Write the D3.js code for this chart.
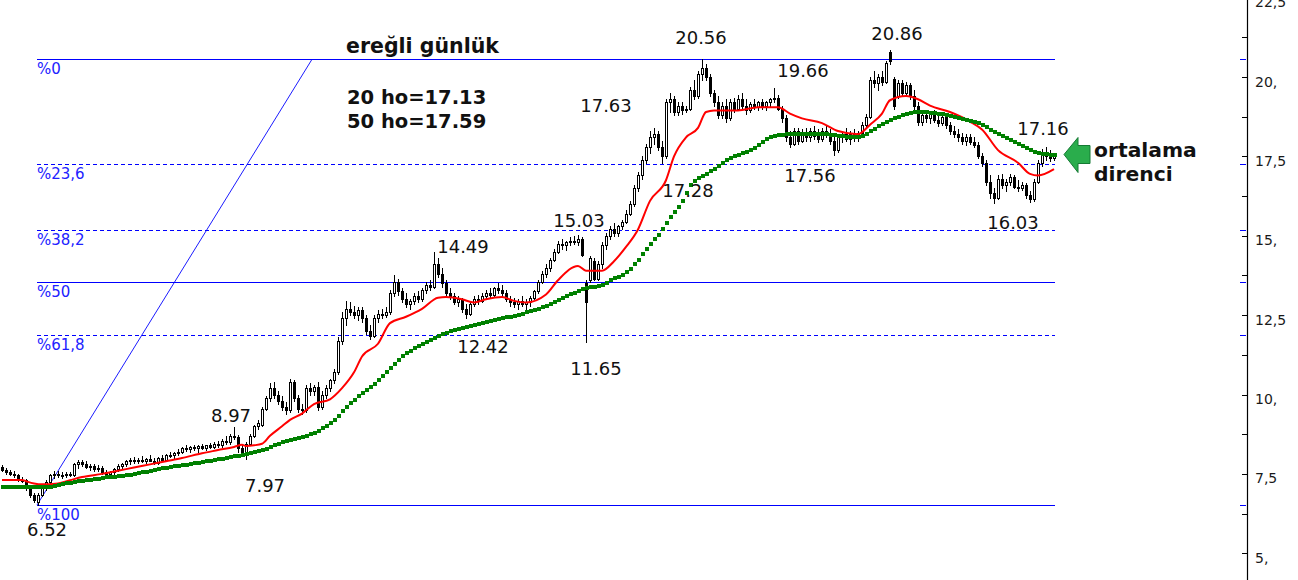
<!DOCTYPE html>
<html>
<head>
<meta charset="utf-8">
<script src="https://cdn.jsdelivr.net/npm/d3@7"></script>
<style>
  html, body { margin: 0; padding: 0; background: #ffffff; }
  svg { display: block; }
  text { font-family: "DejaVu Sans", Verdana, sans-serif; }
</style>
</head>
<body>
<svg id="chart" width="1298" height="580"></svg>
<script>
// ---------------- DATA ----------------
// daily candles [open, high, low, close]
const candles = [
[7.72,7.78,7.6,7.62],[7.62,7.68,7.5,7.55],[7.55,7.62,7.45,7.5],[7.5,7.58,7.4,7.45],[7.45,7.5,7.28,7.32],
[7.32,7.4,7.25,7.3],[7.3,7.35,7.0,7.05],[7.05,7.1,6.78,6.85],[6.85,6.9,6.6,6.68],[6.62,6.9,6.52,6.85],
[6.85,7.15,6.8,7.1],[7.05,7.3,7.0,7.25],[7.25,7.5,7.2,7.45],[7.45,7.6,7.38,7.5],[7.5,7.58,7.4,7.45],
[7.45,7.55,7.38,7.48],[7.48,7.55,7.4,7.5],[7.5,7.56,7.42,7.46],[7.46,7.85,7.44,7.8],[7.8,7.95,7.7,7.88],
[7.88,7.95,7.75,7.8],[7.8,7.9,7.7,7.72],[7.72,7.82,7.62,7.75],[7.75,7.8,7.6,7.65],[7.65,7.78,7.6,7.7],
[7.7,7.75,7.5,7.55],[7.55,7.62,7.45,7.5],[7.5,7.6,7.45,7.55],[7.55,7.7,7.5,7.65],[7.65,7.8,7.6,7.75],
[7.75,7.85,7.7,7.8],[7.8,7.95,7.75,7.9],[7.9,8.0,7.82,7.95],[7.95,8.02,7.85,7.9],[7.9,8.0,7.85,7.95],
[7.95,8.05,7.88,7.92],[7.92,8.0,7.85,7.97],[7.97,8.08,7.9,7.9],[7.9,8.0,7.82,7.85],[7.85,8.02,7.8,8.0],
[8.0,8.1,7.92,7.95],[7.95,8.12,7.9,8.1],[8.1,8.2,8.02,8.08],[8.08,8.2,8.0,8.15],[8.15,8.28,8.08,8.2],
[8.2,8.35,8.15,8.3],[8.3,8.4,8.22,8.28],[8.28,8.38,8.2,8.35],[8.35,8.42,8.25,8.3],[8.3,8.4,8.2,8.38],
[8.38,8.45,8.28,8.32],[8.32,8.42,8.25,8.4],[8.4,8.48,8.3,8.35],[8.35,8.5,8.3,8.45],[8.45,8.55,8.35,8.4],
[8.4,8.6,8.35,8.55],[8.55,8.7,8.45,8.5],[8.5,8.75,8.45,8.7],[8.7,8.97,8.6,8.65],[8.65,8.72,8.2,8.3],
[8.3,8.4,8.05,8.15],[8.1,8.5,7.97,8.45],[8.45,8.75,8.4,8.7],[8.7,9.05,8.65,9.0],[9.0,9.2,8.9,9.1],
[9.05,9.6,9.0,9.55],[9.55,9.95,9.5,9.9],[9.9,10.35,9.8,10.2],[10.2,10.4,9.9,10.0],[10.0,10.1,9.7,9.8],
[9.8,9.95,9.5,9.6],[9.6,9.75,9.4,9.5],[9.5,10.5,9.45,10.4],[10.4,10.45,9.8,9.9],[9.9,10.0,9.45,9.55],
[9.55,9.7,9.4,9.5],[9.5,10.3,9.45,10.2],[10.2,10.35,10.0,10.1],[10.1,10.3,10.0,10.25],[10.25,10.4,9.5,9.6],
[9.6,10.1,9.55,10.0],[10.0,10.3,9.9,10.2],[10.2,10.5,10.1,10.45],[10.45,10.8,10.35,10.7],[10.7,11.8,10.65,11.7],
[11.7,12.6,11.6,12.4],[12.4,12.95,12.2,12.7],[12.7,12.9,12.5,12.6],[12.6,12.8,12.4,12.5],[12.5,12.75,12.35,12.65],
[12.65,12.75,12.3,12.4],[12.4,12.5,11.9,12.0],[12.0,12.2,11.75,11.85],[11.85,12.5,11.8,12.4],[12.4,12.65,12.3,12.55],
[12.55,12.7,12.4,12.5],[12.5,12.75,12.45,12.6],[12.6,13.3,12.55,13.2],[13.2,13.75,13.1,13.55],[13.55,13.65,13.15,13.25],
[13.25,13.35,12.9,13.0],[13.0,13.2,12.75,12.85],[12.85,13.0,12.7,12.95],[12.95,13.2,12.85,13.1],[13.1,13.25,12.9,13.0],
[13.0,13.35,12.95,13.3],[13.3,13.55,13.2,13.45],[13.45,13.6,13.3,13.4],[13.4,14.49,13.35,14.1],[14.1,14.3,13.7,13.8],
[13.8,14.0,13.4,13.5],[13.5,13.6,13.1,13.2],[13.2,13.35,13.0,13.1],[13.1,13.2,12.85,12.9],[12.9,13.1,12.8,13.0],
[13.0,13.05,12.6,12.7],[12.7,12.85,12.42,12.55],[12.55,12.9,12.5,12.85],[12.85,13.1,12.8,13.0],[13.0,13.15,12.85,12.95],
[12.95,13.2,12.9,13.1],[13.1,13.3,13.0,13.2],[13.2,13.35,13.05,13.15],[13.15,13.4,13.1,13.35],[13.35,13.5,13.2,13.3],
[13.3,13.45,13.1,13.2],[13.2,13.3,12.95,13.0],[13.0,13.1,12.8,12.9],[12.9,13.05,12.75,12.85],[12.85,13.0,12.7,12.95],
[12.95,13.1,12.8,12.85],[12.85,13.0,12.7,12.9],[12.9,13.1,12.8,13.05],[13.05,13.3,13.0,13.25],[13.25,13.6,13.2,13.55],
[13.55,13.9,13.5,13.8],[13.8,14.1,13.7,14.0],[14.0,14.3,13.9,14.25],[14.25,14.6,14.2,14.5],[14.5,14.85,14.45,14.75],
[14.75,14.9,14.6,14.7],[14.7,14.85,14.55,14.8],[14.8,14.95,14.7,14.85],[14.85,15.0,14.75,14.8],[14.8,15.03,14.7,14.9],
[14.9,14.95,14.35,14.4],[13.5,13.6,11.65,12.9],[13.6,14.35,13.55,14.3],[14.2,14.3,13.6,13.65],[13.65,14.2,13.6,14.1],
[14.1,14.8,14.0,14.7],[14.7,15.1,14.6,15.0],[15.0,15.3,14.9,15.2],[15.2,15.4,15.0,15.1],[15.1,15.35,15.0,15.3],
[15.3,15.5,15.2,15.45],[15.45,15.8,15.4,15.7],[15.7,16.1,15.65,16.0],[16.0,16.6,15.95,16.5],[16.5,17.0,16.4,16.9],
[16.9,17.5,16.8,17.4],[17.4,17.9,17.3,17.8],[17.8,18.3,17.6,18.1],[18.1,18.4,17.9,18.2],[18.2,18.3,17.7,17.8],
[17.8,18.0,17.28,17.5],[17.5,19.3,17.45,19.2],[19.2,19.5,18.9,19.3],[19.3,19.4,18.8,18.9],[18.9,19.2,18.8,19.1],
[19.1,19.2,18.85,18.95],[18.95,19.1,18.9,19.0],[19.0,19.7,18.95,19.6],[19.6,19.9,19.3,19.4],[19.4,20.2,19.35,20.1],
[20.1,20.56,19.9,20.3],[20.3,20.4,19.9,20.0],[20.0,20.1,19.4,19.5],[19.5,19.6,19.1,19.2],[19.2,19.4,18.7,18.8],
[18.8,19.2,18.7,19.1],[19.1,19.3,18.6,18.7],[18.7,19.3,18.65,19.2],[19.2,19.35,18.9,19.0],[19.0,19.45,18.95,19.3],
[19.3,19.5,19.0,19.1],[19.1,19.3,18.85,18.95],[18.95,19.2,18.9,19.15],[19.15,19.3,19.0,19.05],[19.05,19.25,18.95,19.2],
[19.2,19.3,19.0,19.1],[19.1,19.25,18.95,19.2],[19.2,19.35,19.05,19.3],[19.3,19.66,19.2,19.35],[19.35,19.45,18.95,19.0],
[19.0,19.1,18.6,18.7],[18.7,18.8,18.0,18.1],[18.1,18.3,17.8,17.9],[17.9,18.4,17.85,18.3],[18.3,18.4,17.9,18.0],
[18.0,18.35,17.95,18.25],[18.25,18.4,18.0,18.1],[18.1,18.4,18.0,18.3],[18.3,18.45,18.05,18.15],[18.15,18.35,17.95,18.05],
[18.05,18.4,18.0,18.3],[18.3,18.45,18.1,18.2],[18.2,18.35,17.9,18.0],[18.0,18.1,17.56,17.7],[17.7,18.2,17.65,18.1],
[18.1,18.3,17.95,18.2],[18.2,18.4,18.0,18.05],[18.05,18.3,17.9,18.2],[18.2,18.35,18.0,18.1],[18.1,18.3,18.0,18.25],
[18.25,18.6,18.2,18.5],[18.5,18.85,18.4,18.75],[18.75,20.0,18.7,19.9],[19.9,20.2,19.7,19.8],[19.8,20.1,19.6,20.0],
[20.0,20.2,19.75,19.85],[19.85,20.5,19.8,20.45],[20.8,20.86,20.4,20.5],[19.95,20.0,19.0,19.1],[19.4,19.9,19.35,19.8],
[19.8,19.9,19.4,19.5],[19.5,19.85,19.4,19.75],[19.75,19.8,19.3,19.4],[19.4,19.6,19.0,19.1],[19.1,19.2,18.5,18.6],
[18.6,18.9,18.5,18.8],[18.8,18.95,18.6,18.7],[18.7,18.9,18.55,18.85],[18.85,18.95,18.6,18.65],[18.65,18.8,18.45,18.55],
[18.55,18.85,18.5,18.75],[18.75,18.8,18.4,18.5],[18.5,18.6,18.2,18.3],[18.3,18.45,18.1,18.2],[18.2,18.35,18.0,18.1],
[18.1,18.25,17.9,18.0],[18.0,18.2,17.85,18.1],[18.1,18.2,17.9,17.95],[17.95,18.1,17.8,17.85],[17.85,17.95,17.45,17.5],
[17.5,17.6,17.2,17.3],[17.3,17.4,16.6,16.7],[16.7,16.9,16.2,16.35],[16.35,16.5,16.03,16.2],[16.2,16.9,16.15,16.8],
[16.8,16.95,16.5,16.6],[16.6,16.8,16.4,16.7],[16.7,16.95,16.6,16.85],[16.85,16.9,16.5,16.55],[16.55,16.75,16.4,16.5],
[16.5,16.7,16.45,16.6],[16.6,16.65,16.2,16.3],[16.3,16.4,16.05,16.15],[16.15,16.8,16.1,16.7],[16.7,17.4,16.65,17.3],
[17.3,17.75,17.2,17.6],[17.6,17.8,17.4,17.5],[17.5,17.7,17.35,17.45],[17.45,17.6,17.4,17.55]
];

// 20-day moving average: [candle index, value]
const ma20 = [
[0,7.31],[5,7.31],[6,7.27],[8,7.2],[10,7.17],[14,7.2],[17,7.3],[20,7.4],[25,7.5],[29,7.6],[33,7.7],[37,7.8],
[41,7.9],[45,8.0],[50,8.15],[54,8.25],[58,8.35],[60,8.42],[61,8.38],[63,8.4],[65,8.45],[67,8.7],[70,9.0],
[72,9.2],[75,9.4],[78,9.7],[82,9.85],[85,10.2],[88,10.7],[90,11.2],[94,11.6],[97,12.25],[101,12.45],[105,12.7],
[109,13.05],[111,13.07],[115,13.0],[118,12.9],[121,13.0],[125,13.07],[128,12.95],[131,12.9],[136,13.15],
[139,13.6],[144,14.05],[146,13.9],[150,13.9],[153,14.2],[156,14.65],[159,15.2],[162,16.1],[166,16.75],
[168,17.5],[171,18.1],[174,18.4],[176,18.9],[178,18.95],[184,18.95],[189,19.05],[194,19.05],[197,18.85],
[200,18.7],[205,18.55],[209,18.3],[214,18.2],[217,18.5],[220,18.85],[222,19.27],[226,19.4],[229,19.3],
[232,19.1],[237,18.9],[242,18.6],[245,18.35],[249,17.7],[254,17.3],[257,16.95],[259,16.9],[263,17.1]
];

// 50-day moving average: [candle index, value]
const ma50 = [
[0,7.1],[8,7.1],[11,7.08],[16,7.2],[25,7.37],[33,7.5],[41,7.7],[50,7.87],[58,8.05],[65,8.25],[70,8.5],
[78,8.8],[83,9.2],[86,9.6],[90,10.05],[94,10.45],[97,10.85],[101,11.3],[106,11.65],[110,11.9],[115,12.1],
[120,12.25],[125,12.4],[130,12.55],[136,12.8],[141,13.1],[146,13.35],[150,13.45],[152,13.6],[156,13.85],
[159,14.25],[162,14.75],[165,15.2],[167,15.6],[170,16.1],[172,16.6],[176,16.95],[179,17.2],[182,17.45],
[187,17.7],[192,18.1],[197,18.2],[205,18.2],[214,18.1],[217,18.3],[222,18.65],[225,18.8],[229,18.9],
[234,18.85],[239,18.7],[244,18.55],[249,18.2],[254,17.9],[259,17.6],[263,17.55]
];

// Fibonacci retracement drawn from the 6.52 low to the 20.56 high
const fibLow = 6.52;
const fibHigh = 20.56;
const fibStartIdx = 8.75;   // candle index of the low
const fibTopIdx = 77.5;     // where the trend line meets the high level
const fibEndIdx = 263.25;
const fibLevels = [0, 23.6, 38.2, 50, 61.8, 100];
const fibLabels = ["%0", "%23,6", "%38,2", "%50", "%61,8", "%100"];

// right axis
const tickValues = [5, 7.5, 10, 12.5, 15, 17.5, 20, 22.5];
const tickLabels = ["5,", "7,5", "10,", "12,5", "15,", "17,5", "20,", "22,5"];

// price annotations
const priceNotes = ["20.56", "20.86", "19.66", "17.63", "17.28", "17.56", "17.16", "16.03",
                    "15.03", "14.49", "12.42", "11.65", "8.97", "7.97", "6.52"];
const titleText = "ereğli günlük";
const maNotes = ["20 ho=17.13", "50 ho=17.59"];
const calloutText = ["ortalama", "direnci"];

// ---------------- LAYOUT ----------------
const svg = d3.select("#chart");
const W = 1298, H = 580;
const x = d3.scaleLinear().domain([0, 263]).range([2, 1054]);
const y = d3.scaleLinear().domain([20.56, 6.52]).range([59.3, 505]);
const crisp = v => Math.round(v) + 0.5;

// fibonacci lines
const fibG = svg.append("g");
fibLevels.forEach((lv, k) => {
  const val = fibHigh - (fibHigh - fibLow) * lv / 100;
  const yy = crisp(y(val));
  const dashed = !(lv === 0 || lv === 50 || lv === 100);
  fibG.append("line")
    .attr("x1", x(fibStartIdx)).attr("x2", x(fibEndIdx))
    .attr("y1", yy).attr("y2", yy)
    .attr("stroke", "#0000ff").attr("stroke-width", 1)
    .attr("stroke-dasharray", dashed ? "4,3" : null);
  fibG.append("text")
    .attr("x", x(fibStartIdx)).attr("y", yy + 14.5)
    .attr("font-size", 15).attr("fill", "#2222ff")
    .text(fibLabels[k]);
  // marker on the axis
  fibG.append("line")
    .attr("x1", 1240).attr("x2", 1246)
    .attr("y1", yy).attr("y2", yy)
    .attr("stroke", "#0000ff").attr("stroke-width", 1);
});
// fib trend line
fibG.append("line")
  .attr("x1", x(fibStartIdx)).attr("y1", y(fibLow))
  .attr("x2", x(fibTopIdx)).attr("y2", y(fibHigh))
  .attr("stroke", "#0000ff").attr("stroke-width", 0.9);

// candles
const cG = svg.append("g");
candles.forEach((d, i) => {
  const [o, h, l, c] = d;
  const px = Math.round(x(i));
  cG.append("line")
    .attr("x1", px + 0.5).attr("x2", px + 0.5)
    .attr("y1", Math.round(y(h))).attr("y2", Math.round(y(l)) + 1)
    .attr("stroke", "#000").attr("stroke-width", 1);
  const top = Math.round(y(Math.max(o, c)));
  let bot = Math.round(y(Math.min(o, c)));
  if (bot - top < 1) bot = top + 1;
  cG.append("rect")
    .attr("x", px - 0.5).attr("width", 2)
    .attr("y", top + 0.5).attr("height", bot - top)
    .attr("fill", c >= o ? "#ffffff" : "#000000")
    .attr("stroke", "#000").attr("stroke-width", 1);
});

// 20-day MA (red)
const line = d3.line().x(d => x(d[0])).y(d => y(d[1])).curve(d3.curveMonotoneX);
svg.append("path").datum(ma20)
  .attr("d", line).attr("fill", "none")
  .attr("stroke", "#ff0000").attr("stroke-width", 2);

// 50-day MA (green, drawn as square dots per candle)
const gPath = svg.append("path").datum(ma50)
  .attr("d", line).attr("fill", "none").attr("stroke", "none");
const node = gPath.node();
const total = node.getTotalLength();
function yAtX(px) {
  let lo = 0, hi = total;
  for (let k = 0; k < 28; k++) {
    const mid = (lo + hi) / 2;
    if (node.getPointAtLength(mid).x < px) lo = mid; else hi = mid;
  }
  return node.getPointAtLength(hi).y;
}
const gG = svg.append("g").attr("shape-rendering", "crispEdges");
d3.range(0, candles.length).forEach(i => {
  const px = Math.round(x(i));
  const yy = Math.round(yAtX(px));
  gG.append("rect")
    .attr("x", px - 1).attr("y", yy - 2)
    .attr("width", 4).attr("height", 4)
    .attr("fill", "#008000");
});

// price annotations
const notePos = [[701,44],[897,40],[803,77],[606,112],[688,197],[810,182],[1043,135],[1013,229],
                 [579,227],[463,253],[483,353],[596,375],[231,422],[265,492],[47,536]];
svg.append("g").selectAll("text").data(priceNotes).join("text")
  .attr("x", (d, k) => notePos[k][0]).attr("y", (d, k) => notePos[k][1])
  .attr("text-anchor", "middle").attr("font-size", 18).attr("fill", "#111")
  .text(d => d);

// title and notes
svg.append("text").attr("x", 346).attr("y", 53)
  .attr("font-size", 20.5).attr("font-weight", "bold").attr("fill", "#111").text(titleText);
maNotes.forEach((t, k) => {
  svg.append("text").attr("x", 347).attr("y", 104 + k * 24)
    .attr("font-size", 19.5).attr("font-weight", "bold").attr("fill", "#111").text(t);
});
calloutText.forEach((t, k) => {
  svg.append("text").attr("x", 1094).attr("y", 157 + k * 24)
    .attr("font-size", 20.3).attr("font-weight", "bold").attr("fill", "#111").text(t);
});

// green arrow
svg.append("polygon")
  .attr("points", "1064,154.5 1078,137.5 1078,145.5 1090,145.5 1090,163.5 1078,163.5 1078,172.5")
  .attr("fill", "#2aad4c").attr("stroke", "#157a34").attr("stroke-width", 1);

// right axis
const axG = svg.append("g");
axG.append("line").attr("x1", 1247.5).attr("x2", 1247.5).attr("y1", 0).attr("y2", H)
  .attr("stroke", "#000").attr("stroke-width", 1.2);
const minorTicks = d3.range(3.75, 23, 1.25);
minorTicks.forEach(v => {
  const yy = crisp(y(v));
  if (yy < 0 || yy > H) return;
  axG.append("line").attr("x1", 1242).attr("x2", 1247).attr("y1", yy).attr("y2", yy)
    .attr("stroke", "#000").attr("stroke-width", 1);
});
tickValues.forEach((v, k) => {
  axG.append("text").attr("x", 1255).attr("y", y(v) + 9.5)
    .attr("font-size", 14).attr("fill", "#1a1a1a").text(tickLabels[k]);
});
</script>
</body>
</html>
